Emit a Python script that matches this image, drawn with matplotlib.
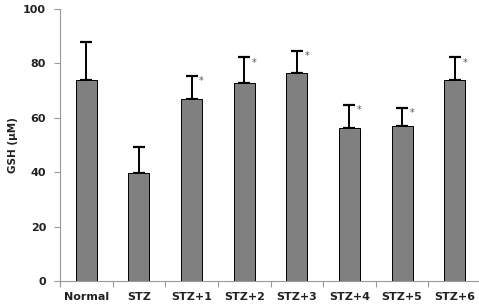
import matplotlib
matplotlib.use('Agg')
import matplotlib.pyplot as plt
import numpy as np

# ─── Data ───
groups = ["Normal", "STZ", "STZ+1", "STZ+2", "STZ+3", "STZ+4", "STZ+5", "STZ+6"]
gsh_mean = [73.9, 39.7, 66.9, 72.8, 76.5, 56.3, 57.0, 73.9]
gsh_err = [14.0, 9.6, 8.5, 9.5, 8.1, 8.4, 6.6, 8.4]
significant = [False, False, True, True, True, True, True, True]
y_ticks = [0, 20, 40, 60, 80, 100]

fig = plt.figure(figsize=(4.79, 3.08), dpi=100)
ax = fig.add_axes([0.1253, 0.0877, 0.879, 0.883])

x = np.arange(len(groups))
ax.bar(x, gsh_mean, width=0.4, color="#808080", edgecolor="black", linewidth=0.7, zorder=2)
ax.errorbar(x, gsh_mean, yerr=[np.zeros(len(gsh_err)), gsh_err], fmt="none",
            ecolor="black", elinewidth=1.4, capsize=4, capthick=1.6, zorder=1)

for xi, m, e, sig in zip(x, gsh_mean, gsh_err, significant):
    if sig:
        ax.text(xi + 0.19, m + e - 2, "*", ha="center", va="center",
                fontsize=7, color="#555555")

ax.set_xlim(-0.5, len(groups) - 0.5)
ax.set_ylim(0, 100)
ax.set_yticks(y_ticks)
ax.set_yticklabels([str(v) for v in y_ticks], fontsize=8, fontweight="bold", color="#222222")
ax.set_xticks(x)
ax.set_xticklabels(groups, fontsize=8, fontweight="bold", color="#222222")
ax.set_xticks(np.arange(len(groups) + 1) - 0.5, minor=True)
ax.tick_params(axis="x", which="major", length=0, pad=8)
ax.tick_params(axis="x", which="minor", length=4, color="#999999", width=0.8)
ax.tick_params(axis="y", length=4, color="#999999", width=0.8, pad=6)
ax.set_ylabel("GSH (µM)", fontsize=7.5, fontweight="bold", color="#222222", labelpad=4)

for side in ["top", "right"]:
    ax.spines[side].set_visible(False)
for side in ["left", "bottom"]:
    ax.spines[side].set_color("#999999")
    ax.spines[side].set_linewidth(0.8)

plt.savefig("out.png", dpi=100)
plt.close()
